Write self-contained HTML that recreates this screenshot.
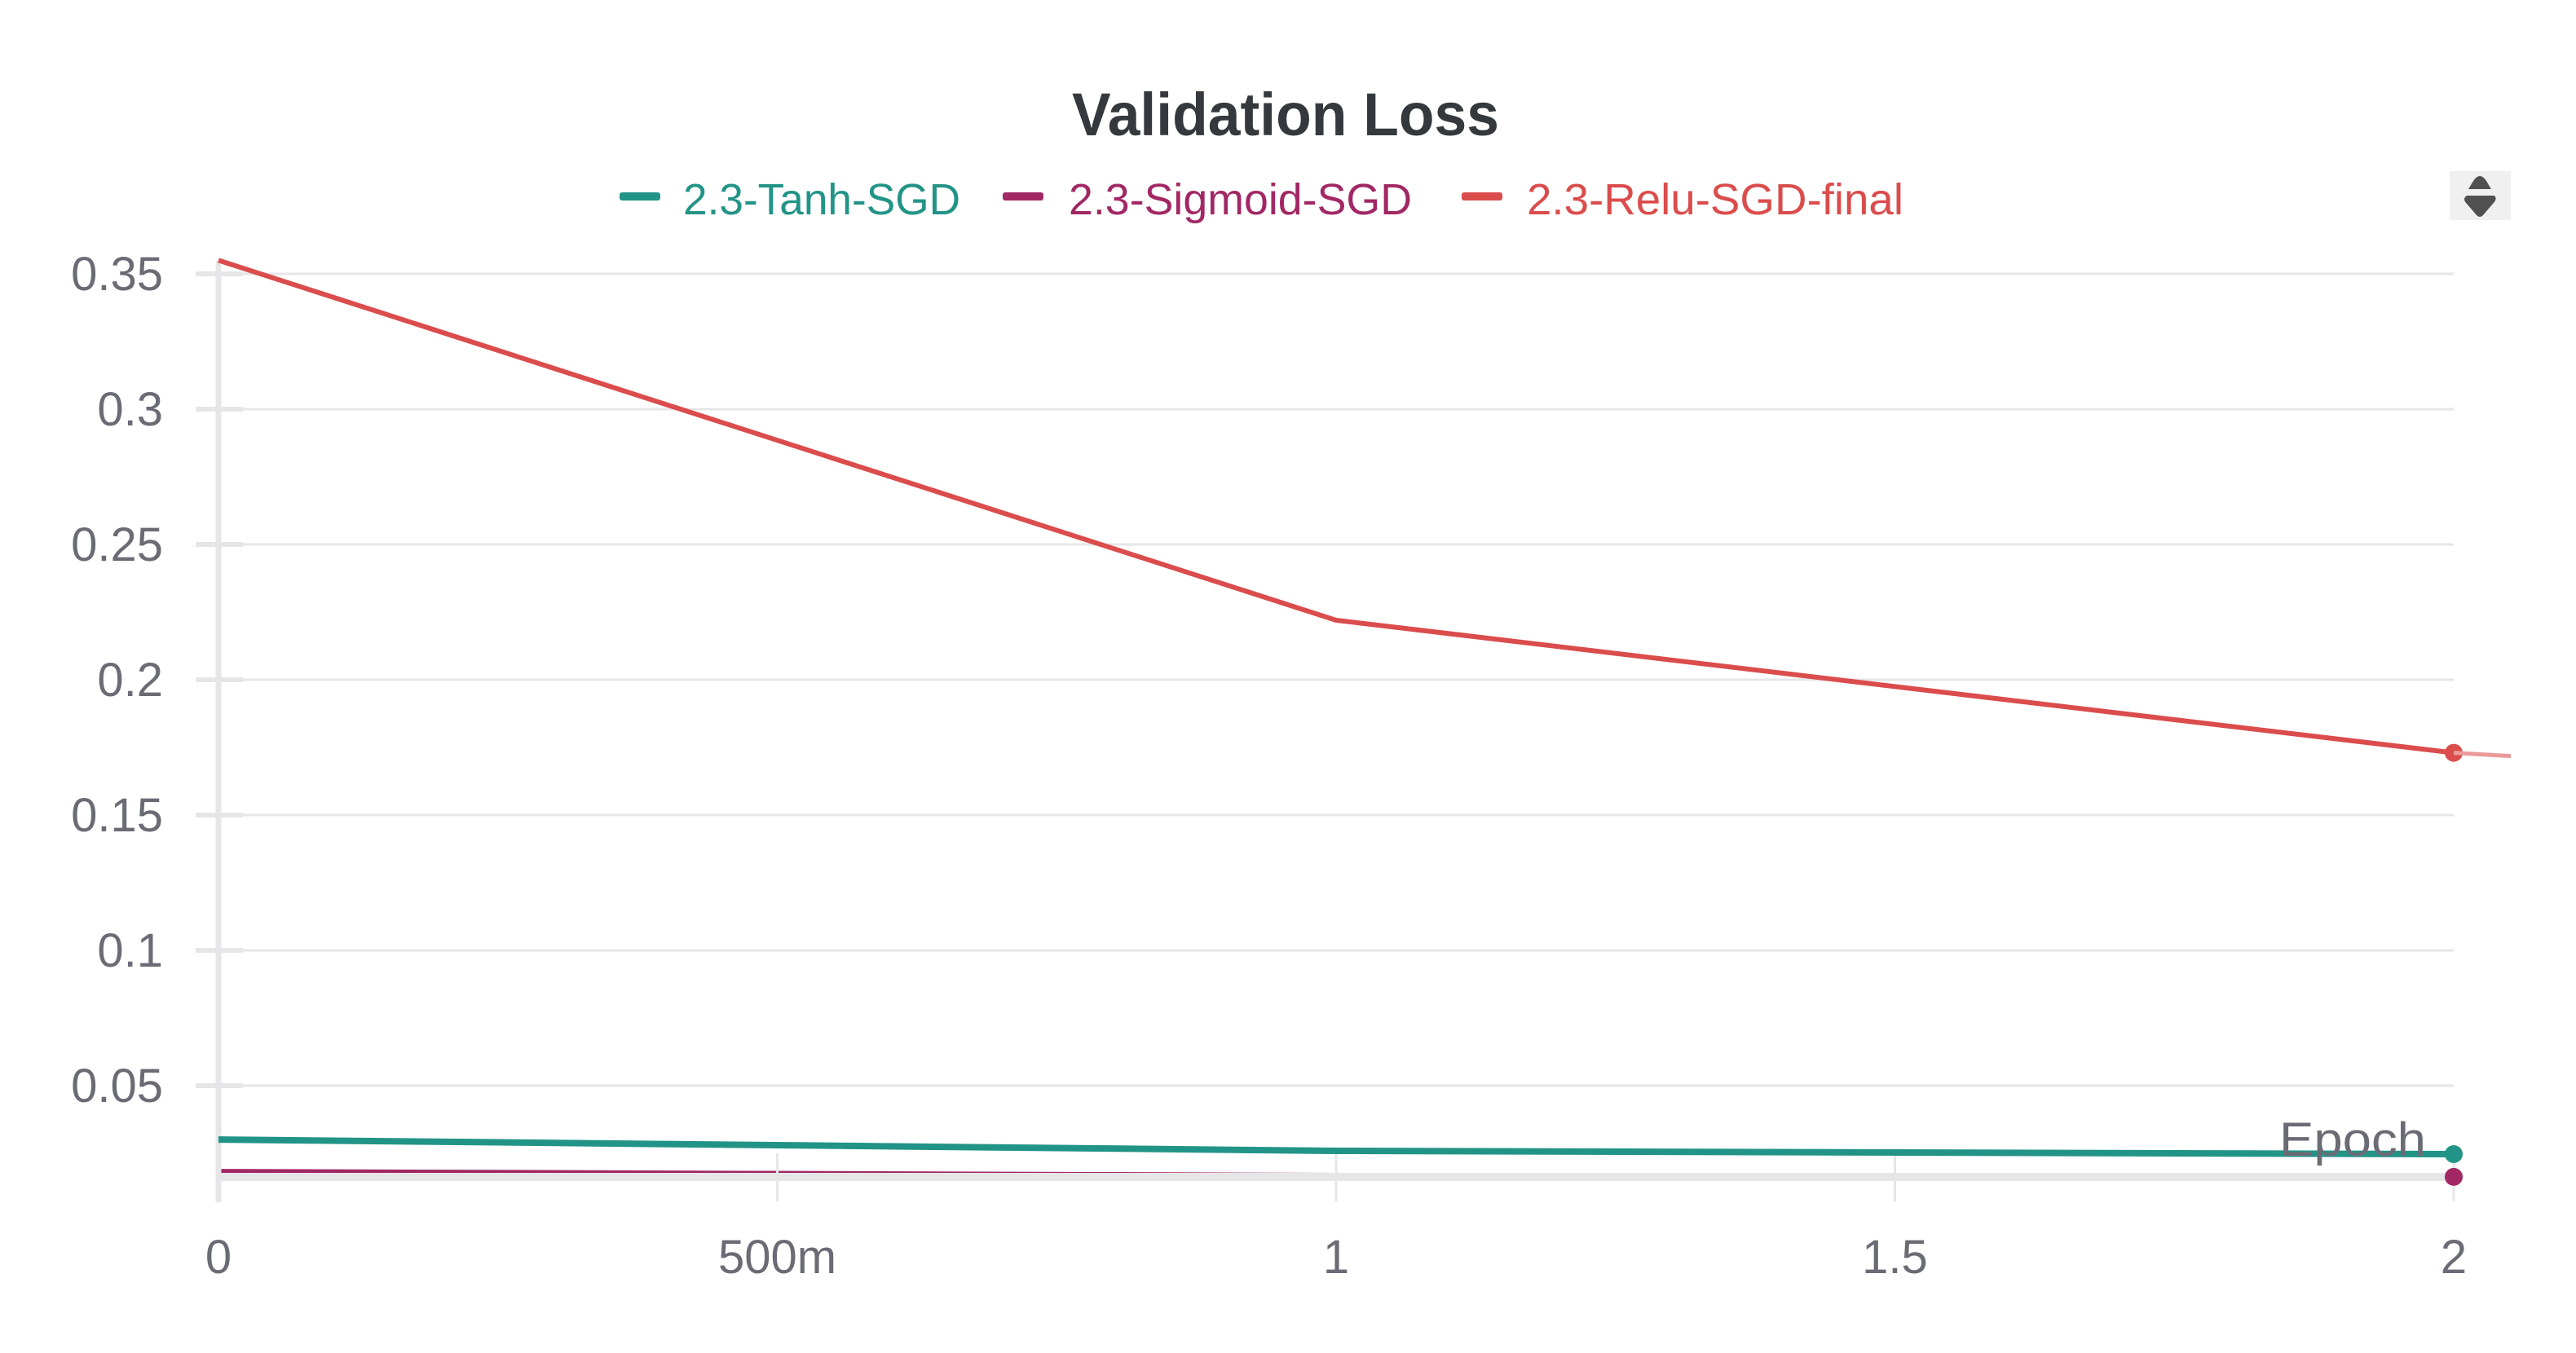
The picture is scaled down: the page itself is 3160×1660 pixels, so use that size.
<!DOCTYPE html>
<html><head><meta charset="utf-8">
<style>
html,body{margin:0;padding:0;background:#fff;}
svg{display:block;font-family:"Liberation Sans",sans-serif;}
</style></head>
<body>
<svg id="chart" width="3160" height="1660" viewBox="0 0 3160 1660">
  <text x="1577" y="166" text-anchor="middle" font-size="74" font-weight="bold" fill="#35383c" textLength="524" lengthAdjust="spacingAndGlyphs">Validation Loss</text>
  <g>
    <g>
      <rect x="760" y="236" width="50" height="10" rx="3" fill="#229487"/>
      <text x="838" y="263" font-size="54" fill="#229487" textLength="340" lengthAdjust="spacingAndGlyphs">2.3-Tanh-SGD</text>
    </g>
    <g>
      <rect x="1230" y="236" width="50" height="10" rx="3" fill="#a12864"/>
      <text x="1311" y="263" font-size="54" fill="#a12864" textLength="421" lengthAdjust="spacingAndGlyphs">2.3-Sigmoid-SGD</text>
    </g>
    <g>
      <rect x="1793" y="236" width="50" height="10" rx="3" fill="#db4c4c"/>
      <text x="1873" y="263" font-size="54" fill="#db4c4c" textLength="462" lengthAdjust="spacingAndGlyphs">2.3-Relu-SGD-final</text>
    </g>
  </g>
  <g>
    <rect x="3005" y="210" width="75" height="60" fill="#f0f0f0"/>
    <path d="M3028 232 L3034 222 Q3042 210 3050 222 L3056 232 Z" fill="#505050"/>
    <path d="M3026 240 L3060 240 Q3064 244 3058 250 L3046 264 Q3042 268 3038 264 L3026 250 Q3020 244 3026 240 Z" fill="#505050"/>
  </g>
  <g id="grid"></g>
  <g id="back"></g>
  <g id="yaxis"></g>
  <g id="xaxis"></g>
  <g id="series"></g>
  <text x="2976" y="1418" text-anchor="end" font-size="58" fill="#6b6b76" textLength="180" lengthAdjust="spacingAndGlyphs">Epoch</text>
</svg>
<script>
const xTicks = [0, 0.5, 1, 1.5, 2];
const xTickLabels = ["0", "500m", "1", "1.5", "2"];
const yTicks = [0.05, 0.1, 0.15, 0.2, 0.25, 0.3, 0.35];
const yTickLabels = ["0.05", "0.1", "0.15", "0.2", "0.25", "0.3", "0.35"];
const epochs = [0, 1, 2];
const tanhValues = [0.0301, 0.0259, 0.0247];
const sigmoidValues = [0.0185, 0.0170, 0.0163];
const reluValues = [0.355, 0.222, 0.173];
const seriesNames = ["2.3-Tanh-SGD", "2.3-Sigmoid-SGD", "2.3-Relu-SGD-final"];

const NS = "http://www.w3.org/2000/svg";
const X0 = 268, X1 = 3010;
function xs(v){ return X0 + (v - 0) / (2 - 0) * (X1 - X0); }
function ys(v){ return 1498 - v / 0.05 * 166; }
function mk(tag, attrs, parent){
  const e = document.createElementNS(NS, tag);
  for (const k in attrs) e.setAttribute(k, attrs[k]);
  parent.appendChild(e);
  return e;
}
const grid = document.getElementById('grid');
const back = document.getElementById('back');
const yaxis = document.getElementById('yaxis');
const xaxis = document.getElementById('xaxis');
const series = document.getElementById('series');

yTicks.forEach((t, i) => {
  const g = mk('line', {x1: X0, x2: X1, y1: ys(t), y2: ys(t), stroke: '#e6e6e9', 'stroke-width': 3}, grid);
  
  
  const tk = mk('line', {x1: 240, x2: 298, y1: ys(t), y2: ys(t), stroke: '#e6e6e9', 'stroke-width': 6}, yaxis);
  
  
  const lb = mk('text', {x: 200, y: ys(t) + 20, 'text-anchor': 'end', 'font-size': 58, fill: '#6b6b76'}, yaxis);
  lb.textContent = yTickLabels[i];
  
  
});
const ya = mk('line', {x1: X0, x2: X0, y1: 320, y2: 1475, stroke: '#e6e6e9', 'stroke-width': 7}, yaxis);



function drawSeries(vals, color, w, name, parent){
  const d = vals.map((v, i) => (i ? 'L' : 'M') + xs(epochs[i]) + ' ' + ys(v)).join(' ');
  const p = mk('path', {d: d, fill: 'none', stroke: color, 'stroke-width': w, 'stroke-linejoin': 'round'}, parent);
  
  
  const last = vals.length - 1;
  const c = mk('circle', {cx: xs(epochs[last]), cy: ys(vals[last]), r: 11, fill: color}, series);
  
  
}
drawSeries(sigmoidValues, '#a12864', 5, 'sigmoid', back);

xTicks.forEach((t, i) => {
  const tk = mk('line', {x1: xs(t), x2: xs(t), y1: 1415, y2: 1474, stroke: '#e6e6e9', 'stroke-width': 3}, xaxis);
  
  
  const lb = mk('text', {x: xs(t), y: 1562, 'text-anchor': 'middle', 'font-size': 58, fill: '#6b6b76'}, xaxis);
  lb.textContent = xTickLabels[i];
  
  
});
const xa = mk('line', {x1: X0, x2: X1, y1: 1444, y2: 1444, stroke: '#e6e6e9', 'stroke-width': 10}, xaxis);



drawSeries(tanhValues, '#229487', 8, 'tanh', series);
drawSeries(reluValues, '#db4c4c', 6, 'relu', series);
const lr = reluValues[reluValues.length - 1];
const tail = mk('line', {x1: X1, y1: ys(lr), x2: 3080, y2: ys(lr) + 4, stroke: '#eb9a9a', 'stroke-width': 5}, series);


</script>
</body></html>
